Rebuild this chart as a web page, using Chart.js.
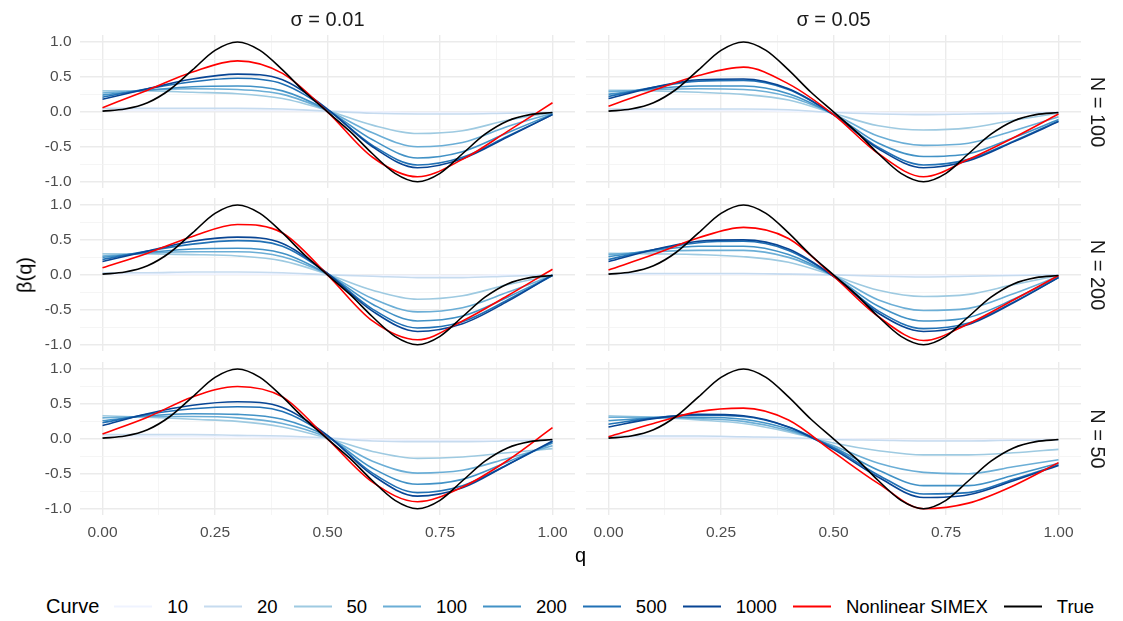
<!DOCTYPE html>
<html>
<head>
<meta charset="utf-8">
<script src="https://cdn.jsdelivr.net/npm/chart.js@4"></script>
<style>
  body { margin: 0; background: #fff; font-family: "Liberation Sans", Arial, sans-serif; }
  #wrap { position: relative; width: 1123px; height: 621px; overflow: hidden; background: #fff; }
  #wrap canvas { position: absolute; }
  .lbl { position: absolute; white-space: nowrap; transform: translate(-50%, -50%); }
  .strip { font-size: 20px; color: #1a1a1a; }
  .title { font-size: 20px; color: #000; }
  #legend { position: absolute; left: 46px; top: 606px; transform: translateY(-50%);
            display: flex; align-items: center; font-size: 18.5px; color: #000; }
  #legend .head { font-size: 20px; margin-right: 15px; }
  #legend .sw { width: 38px; height: 2px; margin-right: 15px; }
  #legend .tx { margin-right: 16px; }
</style>
</head>
<body>
<div id="wrap"></div>
<script>
// q grids the values were read at
const qCoarse = [0, 0.1, 0.2, 0.3, 0.4, 0.5, 0.6, 0.7, 0.8, 0.9, 1];
const qFine = [0, 0.05, 0.1, 0.15, 0.2, 0.25, 0.3, 0.35, 0.4, 0.45, 0.5,
               0.55, 0.6, 0.65, 0.7, 0.75, 0.8, 0.85, 0.9, 0.95, 1];

const curveNames = ['10', '20', '50', '100', '200', '500', '1000'];
const sigmaLabels = ['σ = 0.01', 'σ = 0.05'];
const nLabels = ['N = 100', 'N = 200', 'N = 50'];
const xTicks = [0, 0.125, 0.25, 0.375, 0.5, 0.625, 0.75, 0.875, 1];
const yTicks = [-1, -0.75, -0.5, -0.25, 0, 0.25, 0.5, 0.75, 1];

const trueBeta = [0.01, 0.04, 0.13, 0.32, 0.6, 0.88, 1.0, 0.88, 0.6, 0.28, 0,
                  -0.28, -0.6, -0.88, -1.0, -0.88, -0.6, -0.32, -0.13, -0.04, -0.01];

// sigma = 0.01
const blues_s01_n100 = [
  [0.02, 0.02, 0.02, 0.02, 0.02, 0.01, 0.0, -0.01, -0.01, -0.01, 0.0],
  [0.05, 0.05, 0.05, 0.05, 0.04, 0.01, -0.02, -0.03, -0.03, -0.02, -0.01],
  [0.30, 0.30, 0.28, 0.26, 0.19, 0.02, -0.19, -0.31, -0.27, -0.12, -0.01],
  [0.27, 0.31, 0.33, 0.32, 0.25, 0.02, -0.30, -0.50, -0.44, -0.21, -0.02],
  [0.24, 0.31, 0.36, 0.37, 0.30, 0.02, -0.40, -0.66, -0.57, -0.30, -0.03],
  [0.21, 0.33, 0.43, 0.48, 0.40, 0.03, -0.48, -0.76, -0.65, -0.35, -0.04],
  [0.18, 0.33, 0.47, 0.54, 0.46, 0.04, -0.50, -0.80, -0.67, -0.36, -0.04]
];
const simex_s01_n100 = [0.06, 0.31, 0.57, 0.73, 0.55, 0.0, -0.65, -0.93, -0.68, -0.28, 0.13];

const blues_s01_n200 = [
  [0.01, 0.01, 0.01, 0.01, 0.01, 0.0, -0.01, -0.01, -0.01, 0.0, 0.0],
  [0.03, 0.03, 0.04, 0.04, 0.03, 0.0, -0.02, -0.04, -0.04, -0.02, 0.0],
  [0.30, 0.30, 0.29, 0.27, 0.20, 0.01, -0.22, -0.35, -0.30, -0.14, -0.01],
  [0.27, 0.31, 0.33, 0.33, 0.26, 0.01, -0.34, -0.53, -0.47, -0.25, -0.01],
  [0.25, 0.32, 0.37, 0.38, 0.31, 0.01, -0.42, -0.66, -0.59, -0.32, -0.01],
  [0.22, 0.34, 0.44, 0.49, 0.41, 0.02, -0.49, -0.76, -0.67, -0.36, -0.01],
  [0.19, 0.34, 0.48, 0.54, 0.45, 0.02, -0.52, -0.81, -0.70, -0.38, 0.0]
];
const simex_s01_n200 = [0.10, 0.31, 0.55, 0.72, 0.60, 0.0, -0.66, -0.93, -0.66, -0.30, 0.08];

const blues_s01_n50 = [
  [0.03, 0.03, 0.03, 0.03, 0.02, 0.01, -0.01, -0.02, -0.02, -0.01, -0.01],
  [0.06, 0.06, 0.06, 0.05, 0.04, 0.01, -0.03, -0.04, -0.04, -0.03, -0.02],
  [0.33, 0.31, 0.28, 0.25, 0.17, 0.01, -0.18, -0.28, -0.26, -0.20, -0.14],
  [0.30, 0.32, 0.32, 0.30, 0.22, 0.02, -0.32, -0.49, -0.45, -0.28, -0.10],
  [0.26, 0.33, 0.36, 0.35, 0.28, 0.03, -0.42, -0.65, -0.58, -0.33, -0.06],
  [0.23, 0.35, 0.43, 0.46, 0.39, 0.04, -0.49, -0.77, -0.67, -0.37, -0.04],
  [0.19, 0.36, 0.48, 0.53, 0.45, 0.05, -0.52, -0.82, -0.70, -0.37, -0.03]
];
const simex_s01_n50 = [0.07, 0.31, 0.60, 0.75, 0.60, 0.0, -0.62, -0.90, -0.69, -0.31, 0.16];

// sigma = 0.05
const blues_s05_n100 = [
  [0.02, 0.02, 0.02, 0.02, 0.01, 0.0, -0.01, -0.02, -0.01, -0.01, 0.0],
  [0.04, 0.04, 0.04, 0.04, 0.03, -0.01, -0.03, -0.04, -0.03, -0.02, -0.01],
  [0.31, 0.30, 0.28, 0.25, 0.17, -0.02, -0.20, -0.26, -0.23, -0.12, -0.02],
  [0.29, 0.32, 0.33, 0.32, 0.22, -0.03, -0.35, -0.48, -0.45, -0.27, -0.07],
  [0.25, 0.33, 0.37, 0.37, 0.26, -0.04, -0.45, -0.64, -0.60, -0.37, -0.11],
  [0.22, 0.35, 0.44, 0.45, 0.32, -0.04, -0.51, -0.76, -0.68, -0.42, -0.13],
  [0.19, 0.35, 0.46, 0.47, 0.33, -0.04, -0.53, -0.80, -0.70, -0.43, -0.14]
];
const simex_s05_n100 = [0.08, 0.31, 0.52, 0.64, 0.40, -0.04, -0.60, -0.93, -0.68, -0.37, -0.03];

const blues_s05_n200 = [
  [0.01, 0.01, 0.01, 0.01, 0.01, 0.0, -0.01, -0.01, -0.01, 0.0, 0.0],
  [0.02, 0.02, 0.02, 0.02, 0.01, 0.0, -0.02, -0.03, -0.02, -0.01, 0.0],
  [0.31, 0.30, 0.29, 0.26, 0.18, -0.01, -0.22, -0.31, -0.28, -0.14, -0.01],
  [0.29, 0.33, 0.35, 0.35, 0.25, -0.01, -0.36, -0.51, -0.48, -0.27, -0.02],
  [0.26, 0.35, 0.41, 0.41, 0.29, -0.02, -0.45, -0.66, -0.61, -0.35, -0.03],
  [0.22, 0.36, 0.46, 0.48, 0.35, -0.02, -0.52, -0.77, -0.69, -0.39, -0.04],
  [0.19, 0.36, 0.48, 0.50, 0.37, -0.02, -0.55, -0.81, -0.71, -0.40, -0.04]
];
const simex_s05_n200 = [0.07, 0.29, 0.53, 0.68, 0.52, -0.02, -0.60, -0.94, -0.70, -0.36, -0.01];

const blues_s05_n50 = [
  [0.02, 0.02, 0.02, 0.02, 0.01, 0.0, -0.01, -0.02, -0.02, -0.01, -0.01],
  [0.04, 0.04, 0.04, 0.03, 0.02, -0.01, -0.02, -0.03, -0.03, -0.02, -0.02],
  [0.33, 0.31, 0.27, 0.22, 0.10, -0.06, -0.17, -0.23, -0.23, -0.20, -0.15],
  [0.31, 0.31, 0.29, 0.25, 0.12, -0.10, -0.35, -0.48, -0.50, -0.40, -0.30],
  [0.26, 0.30, 0.31, 0.28, 0.14, -0.12, -0.45, -0.67, -0.67, -0.52, -0.35],
  [0.21, 0.30, 0.34, 0.32, 0.17, -0.13, -0.52, -0.79, -0.77, -0.58, -0.37],
  [0.17, 0.29, 0.35, 0.33, 0.17, -0.15, -0.55, -0.84, -0.80, -0.60, -0.38]
];
const simex_s05_n50 = [0.03, 0.22, 0.39, 0.44, 0.27, -0.19, -0.64, -1.00, -0.92, -0.67, -0.34];

const blueColors = ['#eff3ff', '#c6dbef', '#9ecae1', '#6baed6', '#4292c6', '#2171b5', '#084594'];
const simexColor = '#ff0000';
const trueColor = '#000000';

// panel geometry (px)
const colLeft = [80, 586];
const rowTop = [35, 198, 362];
const PW = 495, PH = 153, M = 25;
const FONT = '"Liberation Sans", Arial, sans-serif';

const wrap = document.getElementById('wrap');

function pts(xs, ys) {
  return xs.map((x, i) => ({ x: x, y: ys[i] }));
}

function isMajor(v, k) {
  return Math.abs(v * k - Math.round(v * k)) < 1e-6;
}

function makePanel(col, row, blues, simex) {
  const padL = col === 0 ? 70 : 0;
  const padB = row === 2 ? 30 : 0;
  const c = document.createElement('canvas');
  c.width = PW + 2 * M + padL;
  c.height = PH + 2 * M + padB;
  c.style.left = (colLeft[col] - M - padL) + 'px';
  c.style.top = (rowTop[row] - M) + 'px';
  wrap.appendChild(c);

  const datasets = [
    { label: 'True', data: pts(qFine, trueBeta), borderColor: trueColor, order: 0 },
    { label: 'Nonlinear SIMEX', data: pts(qCoarse, simex), borderColor: simexColor, order: 1 }
  ];
  blues.forEach((ys, k) => {
    datasets.push({ label: curveNames[k], data: pts(qCoarse, ys), borderColor: blueColors[k], order: 8 - k });
  });
  datasets.forEach(d => {
    d.borderWidth = 1.6;
    d.pointRadius = 0;
    d.fill = false;
    d.cubicInterpolationMode = 'monotone';
  });

  new Chart(c, {
    type: 'line',
    data: { datasets: datasets },
    options: {
      responsive: false,
      animation: false,
      devicePixelRatio: 1,
      layout: { padding: M },
      plugins: { legend: { display: false }, tooltip: { enabled: false } },
      scales: {
        x: {
          type: 'linear', min: -0.05, max: 1.05,
          afterBuildTicks: s => { s.ticks = xTicks.map(v => ({ value: v })); },
          afterFit: s => { s.height = padB; },
          border: { display: false },
          grid: {
            drawTicks: false,
            color: ctx => (ctx.tick && isMajor(ctx.tick.value, 4)) ? '#ebebeb' : '#f2f2f2',
            lineWidth: ctx => (ctx.tick && isMajor(ctx.tick.value, 4)) ? 1.4 : 0.8
          },
          ticks: {
            display: row === 2, autoSkip: false, maxRotation: 0, padding: 8,
            color: '#4d4d4d', font: { size: 15.5, family: FONT },
            callback: v => isMajor(v, 4) ? v.toFixed(2) : ''
          }
        },
        y: {
          type: 'linear', min: -1.09, max: 1.1,
          afterBuildTicks: s => { s.ticks = yTicks.map(v => ({ value: v })); },
          afterFit: s => { s.width = padL; },
          border: { display: false },
          grid: {
            drawTicks: false,
            color: ctx => (ctx.tick && isMajor(ctx.tick.value, 2)) ? '#ebebeb' : '#f2f2f2',
            lineWidth: ctx => (ctx.tick && isMajor(ctx.tick.value, 2)) ? 1.4 : 0.8
          },
          ticks: {
            display: col === 0, autoSkip: false, padding: 8.5,
            color: '#4d4d4d', font: { size: 15.5, family: FONT },
            callback: v => isMajor(v, 2) ? (Math.abs(v) < 1e-9 ? '0.0' : v.toFixed(1)) : ''
          }
        }
      }
    }
  });
}

makePanel(0, 0, blues_s01_n100, simex_s01_n100);
makePanel(0, 1, blues_s01_n200, simex_s01_n200);
makePanel(0, 2, blues_s01_n50, simex_s01_n50);
makePanel(1, 0, blues_s05_n100, simex_s05_n100);
makePanel(1, 1, blues_s05_n200, simex_s05_n200);
makePanel(1, 2, blues_s05_n50, simex_s05_n50);

function addLabel(text, x, y, cls, rot) {
  const d = document.createElement('div');
  d.className = 'lbl ' + cls;
  d.textContent = text;
  d.style.left = x + 'px';
  d.style.top = y + 'px';
  if (rot) d.style.transform = 'translate(-50%, -50%) rotate(' + rot + 'deg)';
  wrap.appendChild(d);
}

// facet strips
sigmaLabels.forEach((t, i) => addLabel(t, colLeft[i] + PW / 2, 19, 'strip'));
nLabels.forEach((t, i) => addLabel(t, 1097, rowTop[i] + PH / 2, 'strip', 90));

// axis titles
addLabel('q', 580.5, 555, 'title');
addLabel('β(q)', 25, 275, 'title', -90);

// legend
const leg = document.createElement('div');
leg.id = 'legend';
let html = '<span class="head">Curve</span>';
const legNames = curveNames.concat(['Nonlinear SIMEX', 'True']);
const legColors = blueColors.concat([simexColor, trueColor]);
legNames.forEach((n, i) => {
  html += '<span class="sw" style="background:' + legColors[i] + '"></span><span class="tx">' + n + '</span>';
});
leg.innerHTML = html;
wrap.appendChild(leg);
</script>
</body>
</html>
